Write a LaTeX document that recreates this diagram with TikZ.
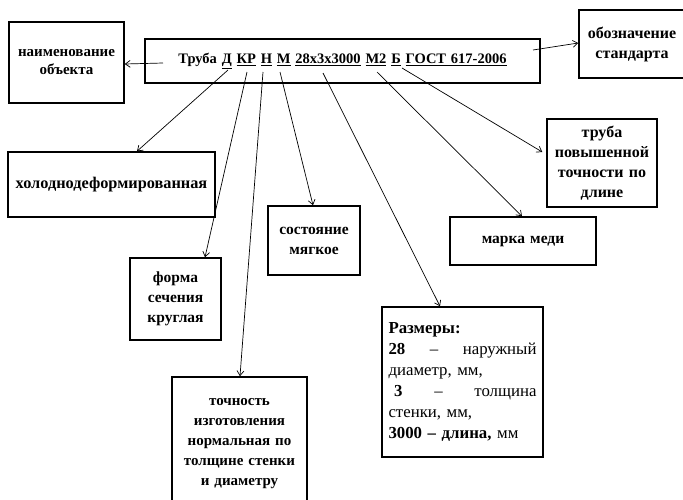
\documentclass[tikz,border=0pt]{standalone}
\usepackage{fontspec}
\setmainfont{Liberation Serif}
\usetikzlibrary{arrows.meta,positioning}

\begin{document}
\begin{tikzpicture}[
  x=1pt,y=-1pt,
  box/.style={draw,line width=1.5pt,align=center,inner sep=0pt,font=\bfseries\fontsize{15.5}{20}\selectfont},
  arr/.style={-{Straight Barb[length=1.7mm,width=2.4mm]},line width=0.7pt}
]
\useasboundingbox (0,0) rectangle (683,499);
\clip (0,0) rectangle (683,499);

\node[box,text width=395pt,minimum height=44pt,font=\bfseries\fontsize{14.5}{18}\selectfont] (main) at (342.5,61)
  {Труба \underline{Д} \underline{КР} \underline{Н} \underline{М} \underline{28х3х3000} \underline{М2} \underline{Б} \underline{ГОСТ 617-2006}};
\node[box,text width=115pt,minimum height=81pt,font=\bfseries\fontsize{15}{18}\selectfont] (name) at (66.5,62.5) {наименование\\объекта};
\node[box,text width=106pt,minimum height=68pt,font=\bfseries\fontsize{16}{20}\selectfont] (std) at (632,44) {обозначение\\стандарта};
\node[box,text width=207pt,minimum height=65pt,font=\bfseries\fontsize{16.3}{20}\selectfont] (cold) at (111.5,184.5) {холоднодеформированная};
\node[box,text width=91pt,minimum height=82pt] (shape) at (175.5,299) {форма\\сечения\\круглая};
\node[box,text width=92pt,minimum height=69pt] (soft) at (314,240.5) {состояние\\мягкое};
\node[box,text width=135pt,minimum height=133pt,font=\bfseries\fontsize{15}{20}\selectfont] (prec) at (239.5,443.5)
  {точность\\изготовления\\нормальная по\\толщине стенки\\и диаметру};
\node[box,minimum width=161pt,minimum height=150pt] (size) at (462.5,382) {};
\node[font=\fontsize{16.8}{21}\selectfont,text width=148pt,align=left,inner sep=0pt] (sizetxt) at (size.center)
  {\textbf{Размеры:}\\
   \textbf{28}\hfill–\hfill наружный\\
   диаметр, мм,\\
   \ \textbf{3}\hfill–\hfill толщина\\
   стенки, мм,\\
   \textbf{3000 – длина,} мм};
\node[box,text width=146pt,minimum height=48pt] (grade) at (523,241) {марка меди};
\node[box,text width=110pt,minimum height=88pt,font=\bfseries\fontsize{16}{20}\selectfont] (length) at (602,163) {труба\\повышенной\\точности по\\длине};

\coordinate (sName) at (163,63);
\coordinate (sStd) at (533,50);
\coordinate (tD) at (228,70);
\coordinate (tKR) at (247,72);
\coordinate (tN) at (263,72);
\coordinate (tM) at (280,72);
\coordinate (tSize) at (323,73);
\coordinate (tM2) at (377,72);
\coordinate (tB) at (402,68);

\draw[arr] (sName) -- (name.east |- 0,64);
\draw[arr] (sStd) -- (std.west |- 0,43);
\draw[arr] (tD) -- (cold.north -| 137,0);
\draw[arr] (tKR) -- (shape.north -| 205,0);
\draw[arr] (tN) -- (prec.north -| 240,0);
\draw[arr] (tM) -- (soft.north -| 313,0);
\draw[arr] (tSize) -- (size.north -| 440,0);
\draw[arr] (tM2) -- (grade.north -| 522,0);
\draw[arr] (tB) -- ([xshift=-4pt]length.west |- 0,152);
\end{tikzpicture}
\end{document}
